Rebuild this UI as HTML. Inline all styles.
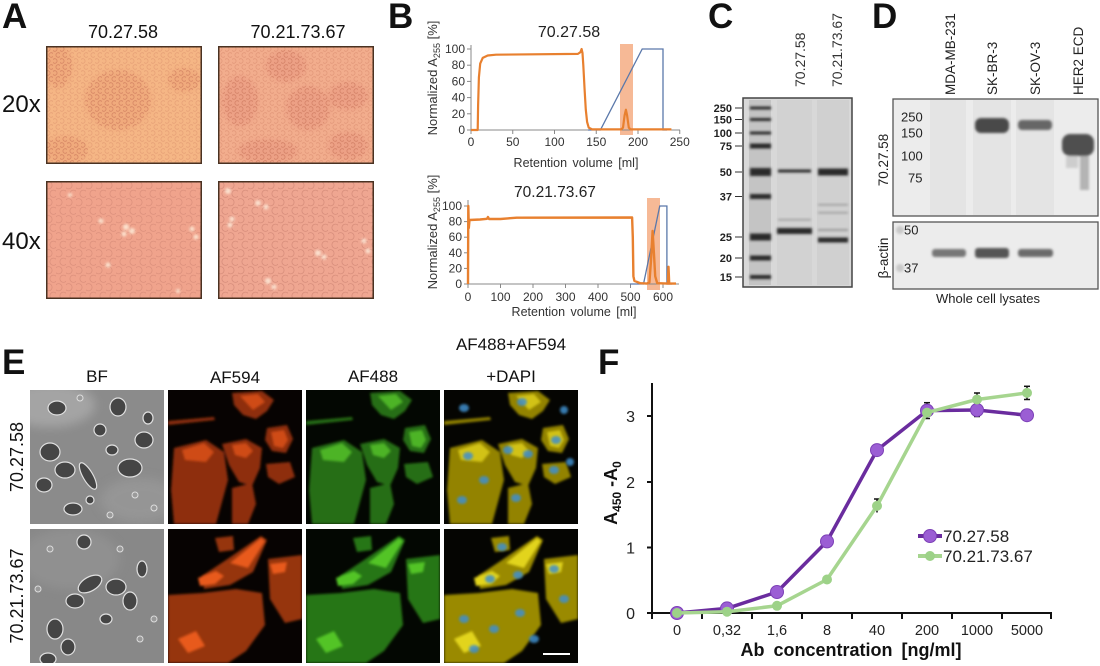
<!DOCTYPE html>
<html><head><meta charset="utf-8">
<style>
html,body{margin:0;padding:0;background:#fff;}
svg{display:block;}
text{font-family:"Liberation Sans",Arial,sans-serif;}
</style></head><body>
<svg width="1100" height="666" viewBox="0 0 1100 666" xmlns="http://www.w3.org/2000/svg">
<defs>
 <pattern id="c20" width="7" height="12" patternUnits="userSpaceOnUse">
   <circle cx="1.75" cy="3" r="2.3" fill="none" stroke="#c46f55" stroke-width="0.8"/>
   <circle cx="5.25" cy="9" r="2.3" fill="none" stroke="#c46f55" stroke-width="0.8"/>
 </pattern>
 <pattern id="c40" width="10" height="17" patternUnits="userSpaceOnUse">
   <circle cx="2.5" cy="4.25" r="3.6" fill="none" stroke="#c47a6a" stroke-width="0.8"/>
   <circle cx="7.5" cy="12.75" r="3.6" fill="none" stroke="#c47a6a" stroke-width="0.8"/>
 </pattern>
 <filter id="bl1" x="-20%" y="-20%" width="140%" height="140%"><feGaussianBlur stdDeviation="1.3"/></filter>
 <filter id="bl2" x="-20%" y="-20%" width="140%" height="140%"><feGaussianBlur stdDeviation="3"/></filter>
 <filter id="bl4" x="-30%" y="-30%" width="160%" height="160%"><feGaussianBlur stdDeviation="5"/></filter>
 <clipPath id="sq"><rect x="0" y="0" width="134" height="134"/></clipPath>
 <clipPath id="boxA"><rect x="0" y="0" width="156" height="118"/></clipPath>

 <g id="r1a">
  <polygon points="64,3 94,1 106,10 99,21 88,29 75,25 66,15"/>
  <polygon points="99,38 119,35 125,49 118,63 104,61 97,50"/>
  <polygon points="54,54 78,49 94,58 92,78 84,96 71,92 61,75"/>
  <polygon points="6,58 38,50 56,62 60,90 54,112 48,134 6,134 3,100"/>
  <polygon points="64,98 84,93 88,114 80,134 64,134"/>
  <polygon points="98,74 122,72 127,87 111,94 100,87"/>
  <polygon points="0,31 46,27 47,30 0,35"/>
 </g>
 <g id="r1b">
  <polygon points="103,42 116,40 120,50 115,58 106,56"/>
  <polygon points="14,60 36,53 46,62 38,72 17,70"/>
  <polygon points="64,55 78,53 85,61 78,68 67,65"/>
  <polygon points="72,6 90,4 97,12 85,20"/>
 </g>
 <g id="r2a">
  <polygon points="47,9 65,7 66,21 51,23"/>
  <polygon points="34,47 58,31 93,7 99,11 85,43 62,56 36,60"/>
  <polygon points="100,30 134,26 134,90 117,94 102,70"/>
  <polygon points="0,66 34,64 68,60 94,64 97,96 78,122 60,134 0,134"/>
 </g>
 <g id="r2b">
  <polygon points="30,49 48,42 56,47 47,55 32,57"/>
  <polygon points="62,34 93,9 97,12 80,39"/>
  <polygon points="102,35 119,33 117,43 105,45"/>
  <polygon points="10,110 28,102 37,117 20,124"/>
 </g>
</defs>

<rect width="1100" height="666" fill="#fff"/>

<!-- ================= PANEL A ================= -->
<text x="2" y="28" font-size="35" font-weight="bold" fill="#111">A</text>
<text x="123" y="38" font-size="18" text-anchor="middle" fill="#111">70.27.58</text>
<text x="298" y="38" font-size="18" text-anchor="middle" fill="#111">70.21.73.67</text>
<text x="2" y="112" font-size="24" fill="#111">20x</text>
<text x="2" y="249" font-size="24" fill="#111">40x</text>

<g transform="translate(46,46)" clip-path="url(#boxA)">
 <rect width="156" height="118" fill="#f5b685"/>
 <rect width="156" height="118" fill="url(#c20)" opacity="0.3"/>
 <g fill="#ea9c72" opacity="0.45" filter="url(#bl2)">
  <ellipse cx="12" cy="20" rx="14" ry="22"/>
  <ellipse cx="72" cy="54" rx="33" ry="30"/>
  <ellipse cx="20" cy="104" rx="22" ry="14"/>
  <ellipse cx="138" cy="34" rx="16" ry="12"/>
 </g>
 <g fill="url(#c20)" opacity="0.5">
  <ellipse cx="12" cy="20" rx="14" ry="22"/>
  <ellipse cx="72" cy="54" rx="33" ry="30"/>
  <ellipse cx="20" cy="104" rx="22" ry="14"/>
  <ellipse cx="138" cy="34" rx="16" ry="12"/>
 </g>
 <rect x="0.75" y="0.75" width="154.5" height="116.5" fill="none" stroke="#4a3222" stroke-width="1.5"/>
</g>

<g transform="translate(218,46)" clip-path="url(#boxA)">
 <rect width="156" height="118" fill="#f2ad8d"/>
 <rect width="156" height="118" fill="url(#c20)" opacity="0.35"/>
 <g fill="#e6927c" opacity="0.45" filter="url(#bl2)">
  <ellipse cx="68" cy="20" rx="20" ry="16"/>
  <ellipse cx="22" cy="55" rx="18" ry="25"/>
  <ellipse cx="90" cy="62" rx="22" ry="22"/>
  <ellipse cx="130" cy="50" rx="20" ry="14"/>
  <ellipse cx="50" cy="105" rx="30" ry="12"/>
  <ellipse cx="130" cy="100" rx="20" ry="14"/>
 </g>
 <g fill="url(#c20)" opacity="0.5">
  <ellipse cx="68" cy="20" rx="20" ry="16"/>
  <ellipse cx="22" cy="55" rx="18" ry="25"/>
  <ellipse cx="90" cy="62" rx="22" ry="22"/>
  <ellipse cx="130" cy="50" rx="20" ry="14"/>
  <ellipse cx="50" cy="105" rx="30" ry="12"/>
  <ellipse cx="130" cy="100" rx="20" ry="14"/>
 </g>
 <rect x="0.75" y="0.75" width="154.5" height="116.5" fill="none" stroke="#4a3222" stroke-width="1.5"/>
</g>

<g transform="translate(46,181)" clip-path="url(#boxA)">
 <rect width="156" height="118" fill="#f0a38c"/>
 <rect width="156" height="118" fill="url(#c40)" opacity="0.45"/>
 <g fill="#fff3df" opacity="0.8" filter="url(#bl1)">
  <circle cx="80" cy="46" r="3"/><circle cx="86" cy="50" r="3"/><circle cx="78" cy="53" r="2.5"/>
  <circle cx="146" cy="48" r="2.5"/><circle cx="150" cy="56" r="2.5"/>
  <circle cx="62" cy="84" r="2.5"/><circle cx="55" cy="40" r="2.5"/>
  <circle cx="24" cy="14" r="2"/><circle cx="132" cy="110" r="2"/>
 </g>
 <rect x="0.75" y="0.75" width="154.5" height="116.5" fill="none" stroke="#4a3222" stroke-width="1.5"/>
</g>

<g transform="translate(218,181)" clip-path="url(#boxA)">
 <rect width="156" height="118" fill="#efa691"/>
 <rect width="156" height="118" fill="url(#c40)" opacity="0.55"/>
 <g fill="#fff1e0" opacity="0.8" filter="url(#bl1)">
  <circle cx="10" cy="10" r="3"/><circle cx="14" cy="38" r="2.5"/><circle cx="12" cy="44" r="2.5"/>
  <circle cx="40" cy="22" r="2.8"/><circle cx="48" cy="26" r="2.5"/>
  <circle cx="100" cy="72" r="3"/><circle cx="106" cy="76" r="2.5"/>
  <circle cx="50" cy="100" r="3"/><circle cx="56" cy="106" r="2.5"/>
  <circle cx="146" cy="60" r="2.5"/><circle cx="150" cy="70" r="2.5"/>
 </g>
 <rect x="0.75" y="0.75" width="154.5" height="116.5" fill="none" stroke="#4a3222" stroke-width="1.5"/>
</g>

<!-- ================= PANEL B ================= -->
<text x="388" y="28" font-size="35" font-weight="bold" fill="#111">B</text>
<!-- top chart -->
<text x="569" y="37" font-size="16" text-anchor="middle" fill="#222">70.27.58</text>
<rect x="620" y="44" width="13" height="91" fill="#f4ad84" opacity="0.85"/>
<g stroke="#888" stroke-width="1" fill="none">
 <line x1="471" y1="45" x2="471" y2="130"/>
 <line x1="471" y1="130" x2="680" y2="130"/>
 <line x1="467" y1="130" x2="471" y2="130"/><line x1="467" y1="113.8" x2="471" y2="113.8"/>
 <line x1="467" y1="97.6" x2="471" y2="97.6"/><line x1="467" y1="81.4" x2="471" y2="81.4"/>
 <line x1="467" y1="65.2" x2="471" y2="65.2"/><line x1="467" y1="49" x2="471" y2="49"/>
 <line x1="471" y1="130" x2="471" y2="134"/><line x1="512.75" y1="130" x2="512.75" y2="134"/>
 <line x1="554.5" y1="130" x2="554.5" y2="134"/><line x1="596.25" y1="130" x2="596.25" y2="134"/>
 <line x1="638" y1="130" x2="638" y2="134"/><line x1="679.75" y1="130" x2="679.75" y2="134"/>
</g>
<path d="M588,130 L600.4,130 L642.2,49 L663,49 L663,130 L667,130" fill="none" stroke="#5a78aa" stroke-width="1.3"/>
<path d="M471,130 L477.7,130 L478.1,105.7 L478.9,77.4 L480.2,63.6 L482.7,57.9 L487.7,55.5 L496,54.7 L577.9,53.9 L580.4,52.2 L581.6,49 L582.5,53 L583.3,65.2 L584.6,89.5 L585.8,109.8 L587.1,121.9 L588.7,127.6 L592.1,129.4 L621.3,129.4 L623,127.6 L624.6,115.4 L625.9,109.7 L627.1,115.4 L628.8,127.6 L630.5,129.4 L671.4,129.4" fill="none" stroke="#e8802f" stroke-width="2.2" stroke-linejoin="round"/>
<g font-size="12" fill="#333" text-anchor="end">
 <text x="465" y="134">0</text><text x="465" y="117.8">20</text><text x="465" y="101.6">40</text>
 <text x="465" y="85.4">60</text><text x="465" y="69.2">80</text><text x="465" y="53">100</text>
</g>
<g font-size="12" fill="#333" text-anchor="middle">
 <text x="471" y="146">0</text><text x="512.75" y="146">50</text><text x="554.5" y="146">100</text>
 <text x="596.25" y="146">150</text><text x="638" y="146">200</text><text x="679.75" y="146">250</text>
</g>
<text x="576" y="167" font-size="12.5" text-anchor="middle" fill="#333" word-spacing="2">Retention volume [ml]</text>
<text transform="translate(437,78) rotate(-90)" font-size="13" text-anchor="middle" fill="#333">Normalized A<tspan font-size="9" dy="3">255</tspan><tspan dy="-3"> [%]</tspan></text>

<!-- bottom chart -->
<text x="555" y="197" font-size="15.5" text-anchor="middle" fill="#222">70.21.73.67</text>
<rect x="647" y="198" width="13" height="92" fill="#f4ad84" opacity="0.85"/>
<g stroke="#888" stroke-width="1" fill="none">
 <line x1="468" y1="200" x2="468" y2="284"/>
 <line x1="468" y1="284" x2="679" y2="284"/>
 <line x1="464" y1="284" x2="468" y2="284"/><line x1="464" y1="268.4" x2="468" y2="268.4"/>
 <line x1="464" y1="252.8" x2="468" y2="252.8"/><line x1="464" y1="237.2" x2="468" y2="237.2"/>
 <line x1="464" y1="221.6" x2="468" y2="221.6"/><line x1="464" y1="206" x2="468" y2="206"/>
 <line x1="468" y1="284" x2="468" y2="288"/><line x1="500.5" y1="284" x2="500.5" y2="288"/>
 <line x1="533" y1="284" x2="533" y2="288"/><line x1="565.5" y1="284" x2="565.5" y2="288"/>
 <line x1="598" y1="284" x2="598" y2="288"/><line x1="630.5" y1="284" x2="630.5" y2="288"/>
 <line x1="663" y1="284" x2="663" y2="288"/>
</g>
<path d="M630,284 L643.5,284 L659.75,206 L666.9,206 L666.9,284 L672,284" fill="none" stroke="#5a78aa" stroke-width="1.3"/>
<path d="M468,284 L468.3,206 L468.8,228 L469.5,220 L480,219.5 L487,218.8 L488,217 L489,219 L500.5,219 L510,218.2 L516.75,217.7 L632.1,217.5 L632.8,237.2 L633.4,276.2 L634.4,280.9 L640.3,283.2 L646.75,283.6 L649.4,282.4 L651,260.6 L652.6,231 L653.9,252.8 L655.2,276.2 L657.2,283.2 L667.9,283.6 L668.5,266.8 L669.2,283.6 L676,283.6" fill="none" stroke="#e8802f" stroke-width="2.4" stroke-linejoin="round"/>
<g font-size="12" fill="#333" text-anchor="end">
 <text x="462" y="288">0</text><text x="462" y="272.4">20</text><text x="462" y="256.8">40</text>
 <text x="462" y="241.2">60</text><text x="462" y="225.6">80</text><text x="462" y="210">100</text>
</g>
<g font-size="12" fill="#333" text-anchor="middle">
 <text x="468" y="301">0</text><text x="500.5" y="301">100</text><text x="533" y="301">200</text>
 <text x="565.5" y="301">300</text><text x="598" y="301">400</text><text x="630.5" y="301">500</text>
 <text x="663" y="301">600</text>
</g>
<text x="574" y="316" font-size="12.5" text-anchor="middle" fill="#333" word-spacing="2">Retention volume [ml]</text>
<text transform="translate(437,232) rotate(-90)" font-size="13" text-anchor="middle" fill="#333">Normalized A<tspan font-size="9" dy="3">255</tspan><tspan dy="-3"> [%]</tspan></text>

<!-- ================= PANEL C ================= -->
<text x="708" y="28" font-size="35" font-weight="bold" fill="#111">C</text>
<text transform="translate(805,87) rotate(-90)" font-size="14" fill="#333">70.27.58</text>
<text transform="translate(842,87) rotate(-90)" font-size="14" fill="#333">70.21.73.67</text>
<rect x="743" y="98" width="109" height="189" fill="#d8d8d8" stroke="#444" stroke-width="1.5"/>
<rect x="749" y="100" width="22" height="185" fill="#c4c4c4"/>
<rect x="777" y="100" width="35" height="185" fill="#d2d2d2"/>
<rect x="817" y="100" width="32" height="185" fill="#d0d0d0"/>
<g fill="#2a2a2a" filter="url(#bl1)">
 <rect x="750" y="106.5" width="21" height="3"/>
 <rect x="750" y="118" width="21" height="3"/>
 <rect x="750" y="131.5" width="21" height="3"/>
 <rect x="750" y="143.5" width="21" height="5"/>
 <rect x="750" y="168" width="21" height="8"/>
 <rect x="750" y="194" width="21" height="5"/>
 <rect x="750" y="233.5" width="21" height="7"/>
 <rect x="750" y="255.5" width="21" height="5"/>
 <rect x="750" y="275" width="21" height="4"/>
 <rect x="778" y="169.5" width="33" height="3"/>
 <rect x="777" y="228" width="35" height="6"/>
 <rect x="818" y="168.5" width="30" height="7"/>
 <rect x="818" y="237.5" width="30" height="5"/>
</g>
<g fill="#999" filter="url(#bl1)">
 <rect x="818" y="229" width="30" height="2"/>
 <rect x="818" y="212" width="30" height="1.5"/>
 <rect x="818" y="204" width="30" height="1.5"/>
 <rect x="778" y="219" width="33" height="1.5"/>
</g>
<g font-size="11" font-weight="bold" fill="#222" text-anchor="end">
 <text x="732" y="112">250</text><text x="732" y="123.5">150</text><text x="732" y="137">100</text>
 <text x="732" y="150">75</text><text x="732" y="176">50</text><text x="732" y="200.5">37</text>
 <text x="732" y="241">25</text><text x="732" y="262">20</text><text x="732" y="281">15</text>
</g>
<g stroke="#333" stroke-width="1">
 <line x1="735" y1="108" x2="742" y2="108"/><line x1="735" y1="119.5" x2="742" y2="119.5"/>
 <line x1="735" y1="133" x2="742" y2="133"/><line x1="735" y1="146" x2="742" y2="146"/>
 <line x1="735" y1="172" x2="742" y2="172"/><line x1="735" y1="196.5" x2="742" y2="196.5"/>
 <line x1="735" y1="237" x2="742" y2="237"/><line x1="735" y1="258" x2="742" y2="258"/>
 <line x1="735" y1="277" x2="742" y2="277"/>
</g>

<!-- ================= PANEL D ================= -->
<text x="872" y="28" font-size="35" font-weight="bold" fill="#111">D</text>
<g font-size="13.5" fill="#222">
 <text transform="translate(955,95) rotate(-90)">MDA-MB-231</text>
 <text transform="translate(997,95) rotate(-90)">SK-BR-3</text>
 <text transform="translate(1040,95) rotate(-90)">SK-OV-3</text>
 <text transform="translate(1083,95) rotate(-90)">HER2 ECD</text>
</g>
<rect x="893" y="99" width="205" height="117" fill="#ececec" stroke="#555" stroke-width="1.3"/>
<g fill="#e4e4e4">
 <rect x="930" y="100" width="36" height="115"/>
 <rect x="973" y="100" width="38" height="115"/>
 <rect x="1016" y="100" width="38" height="115"/>
</g>
<g filter="url(#bl1)">
 <rect x="975" y="118" width="34" height="15" rx="6" fill="#4a4a4a"/>
 <rect x="1018" y="120" width="34" height="10" rx="4" fill="#666"/>
 <rect x="1062" y="134" width="32" height="22" rx="8" fill="#505050"/>
 <rect x="1080" y="156" width="9" height="34" fill="#b4b4b4"/>
 <rect x="1066" y="156" width="12" height="12" fill="#cdcdcd"/>
</g>
<g font-size="13" fill="#222">
 <text x="901" y="121.5">250</text><text x="901" y="137.5">150</text>
 <text x="901" y="160.5">100</text><text x="908" y="182.5">75</text>
</g>
<text transform="translate(888,160) rotate(-90)" font-size="13.5" text-anchor="middle" fill="#222">70.27.58</text>

<rect x="893" y="222" width="205" height="67" fill="#ececec" stroke="#555" stroke-width="1.3"/>
<g filter="url(#bl1)">
 <rect x="932" y="249" width="34" height="8" rx="3" fill="#777"/>
 <rect x="975" y="248" width="34" height="10" rx="3" fill="#555"/>
 <rect x="1018" y="249" width="35" height="8" rx="3" fill="#6a6a6a"/>
 <circle cx="900" cy="230" r="4" fill="#c8c8c8"/>
 <circle cx="900" cy="268" r="4" fill="#c8c8c8"/>
</g>
<g font-size="13" fill="#222">
 <text x="904" y="234.5">50</text><text x="904" y="272.5">37</text>
</g>
<text transform="translate(888,258) rotate(-90)" font-size="13.5" text-anchor="middle" fill="#222">β-actin</text>
<text x="988" y="303" font-size="13" text-anchor="middle" fill="#222">Whole cell lysates</text>

<!-- ================= PANEL E ================= -->
<text x="2" y="374" font-size="35" font-weight="bold" fill="#111">E</text>
<g font-size="17" fill="#111" text-anchor="middle">
 <text x="97" y="382">BF</text>
 <text x="235" y="383">AF594</text>
 <text x="373" y="382">AF488</text>
 <text x="511" y="350">AF488+AF594</text>
 <text x="511" y="382">+DAPI</text>
</g>
<text transform="translate(23,457) rotate(-90)" font-size="18" text-anchor="middle" fill="#111">70.27.58</text>
<text transform="translate(23,596) rotate(-90)" font-size="18" text-anchor="middle" fill="#111">70.21.73.67</text>

<!-- Row 1 BF -->
<g transform="translate(30,390)" clip-path="url(#sq)">
 <rect width="134" height="134" fill="#8b8b8b"/>
 <ellipse cx="20" cy="15" rx="45" ry="22" fill="#b5b5b5" opacity="0.6" filter="url(#bl4)"/>
 <ellipse cx="110" cy="110" rx="40" ry="22" fill="#a0a0a0" opacity="0.5" filter="url(#bl4)"/>
 <g fill="#454545" stroke="#e0e0e0" stroke-width="1.2">
  <ellipse cx="27" cy="18" rx="9" ry="7"/>
  <ellipse cx="88" cy="17" rx="8" ry="9"/>
  <ellipse cx="114" cy="50" rx="9" ry="8"/>
  <ellipse cx="20" cy="62" rx="10" ry="9"/>
  <ellipse cx="35" cy="80" rx="10" ry="8"/>
  <ellipse cx="14" cy="95" rx="8" ry="7"/>
  <ellipse cx="58" cy="86" rx="5" ry="15" transform="rotate(-30 58 86)"/>
  <ellipse cx="100" cy="78" rx="12" ry="9"/>
  <ellipse cx="43" cy="119" rx="9" ry="6"/>
  <ellipse cx="70" cy="40" rx="6" ry="6"/>
  <ellipse cx="118" cy="28" rx="5" ry="6"/>
  <ellipse cx="60" cy="110" rx="4" ry="4"/>
  <ellipse cx="82" cy="60" rx="6" ry="5"/>
 </g>
 <g fill="#9a9a9a" stroke="#dedede" stroke-width="1">
  <circle cx="50" cy="8" r="3"/><circle cx="105" cy="105" r="3"/><circle cx="80" cy="125" r="3"/><circle cx="124" cy="118" r="3"/>
 </g>
</g>
<!-- Row 1 AF594 -->
<g transform="translate(168,390)" clip-path="url(#sq)">
 <rect width="134" height="134" fill="#070302"/>
 <use href="#r1a" fill="#8e2e0c" filter="url(#bl1)"/>
 <use href="#r1b" fill="#cf4c18" filter="url(#bl1)"/>
</g>
<!-- Row 1 AF488 -->
<g transform="translate(306,390)" clip-path="url(#sq)">
 <rect width="134" height="134" fill="#030702"/>
 <use href="#r1a" fill="#256e12" filter="url(#bl1)"/>
 <use href="#r1b" fill="#4db426" filter="url(#bl1)"/>
</g>
<!-- Row 1 merged -->
<g transform="translate(444,390)" clip-path="url(#sq)">
 <rect width="134" height="134" fill="#050502"/>
 <use href="#r1a" fill="#938300" filter="url(#bl1)"/>
 <use href="#r1b" fill="#d2c214" filter="url(#bl1)"/>
 <g fill="#3f8fcc" opacity="0.85" filter="url(#bl1)">
  <ellipse cx="78" cy="12" rx="5" ry="4"/><ellipse cx="112" cy="50" rx="5" ry="4"/>
  <ellipse cx="64" cy="60" rx="5" ry="4"/><ellipse cx="84" cy="64" rx="5" ry="4"/>
  <ellipse cx="24" cy="66" rx="5" ry="4"/><ellipse cx="40" cy="90" rx="5" ry="4"/>
  <ellipse cx="18" cy="110" rx="5" ry="4"/><ellipse cx="72" cy="108" rx="5" ry="4"/>
  <ellipse cx="110" cy="80" rx="5" ry="4"/><ellipse cx="20" cy="18" rx="5" ry="4"/>
  <ellipse cx="120" cy="20" rx="4" ry="4"/><ellipse cx="126" cy="72" rx="4" ry="4"/>
 </g>
</g>

<!-- Row 2 BF -->
<g transform="translate(30,529)" clip-path="url(#sq)">
 <rect width="134" height="134" fill="#888"/>
 <ellipse cx="40" cy="30" rx="50" ry="30" fill="#999" opacity="0.5" filter="url(#bl4)"/>
 <g fill="#454545" stroke="#e0e0e0" stroke-width="1.2">
  <ellipse cx="54" cy="13" rx="7" ry="7"/>
  <ellipse cx="60" cy="55" rx="13" ry="7" transform="rotate(-30 60 55)"/>
  <ellipse cx="86" cy="58" rx="10" ry="8"/>
  <ellipse cx="45" cy="72" rx="9" ry="7"/>
  <ellipse cx="100" cy="72" rx="7" ry="9"/>
  <ellipse cx="25" cy="100" rx="8" ry="10"/>
  <ellipse cx="38" cy="118" rx="7" ry="8"/>
  <ellipse cx="18" cy="130" rx="8" ry="6"/>
  <ellipse cx="112" cy="40" rx="5" ry="8"/>
  <ellipse cx="76" cy="90" rx="6" ry="5"/>
 </g>
 <g fill="#999" stroke="#dcdcdc" stroke-width="1">
  <circle cx="20" cy="20" r="3"/><circle cx="110" cy="110" r="3"/><circle cx="90" cy="20" r="3"/><circle cx="124" cy="90" r="3"/><circle cx="8" cy="60" r="3"/>
 </g>
</g>
<!-- Row 2 AF594 -->
<g transform="translate(168,529)" clip-path="url(#sq)">
 <rect width="134" height="134" fill="#070302"/>
 <use href="#r2a" fill="#963410" filter="url(#bl1)"/>
 <use href="#r2b" fill="#e85a1c" filter="url(#bl1)"/>
</g>
<!-- Row 2 AF488 -->
<g transform="translate(306,529)" clip-path="url(#sq)">
 <rect width="134" height="134" fill="#030702"/>
 <use href="#r2a" fill="#287614" filter="url(#bl1)"/>
 <use href="#r2b" fill="#52c426" filter="url(#bl1)"/>
</g>
<!-- Row 2 merged -->
<g transform="translate(444,529)" clip-path="url(#sq)">
 <rect width="134" height="134" fill="#050502"/>
 <use href="#r2a" fill="#9a8a00" filter="url(#bl1)"/>
 <use href="#r2b" fill="#e2d41a" filter="url(#bl1)"/>
 <g fill="#3f8fcc" opacity="0.85" filter="url(#bl1)">
  <ellipse cx="58" cy="18" rx="5" ry="4"/><ellipse cx="46" cy="50" rx="5" ry="4"/>
  <ellipse cx="74" cy="46" rx="5" ry="4"/><ellipse cx="110" cy="40" rx="5" ry="4"/>
  <ellipse cx="120" cy="70" rx="5" ry="4"/><ellipse cx="20" cy="90" rx="5" ry="4"/>
  <ellipse cx="50" cy="100" rx="5" ry="4"/><ellipse cx="76" cy="84" rx="5" ry="4"/>
  <ellipse cx="30" cy="120" rx="5" ry="4"/><ellipse cx="90" cy="110" rx="5" ry="4"/>
 </g>
 <line x1="99" y1="125" x2="126" y2="125" stroke="#fff" stroke-width="2"/>
</g>

<!-- ================= PANEL F ================= -->
<text x="598" y="374" font-size="35" font-weight="bold" fill="#111">F</text>
<g stroke="#111" stroke-width="2" fill="none">
 <line x1="652" y1="383" x2="652" y2="614"/>
 <line x1="651" y1="613" x2="1052" y2="613"/>
 <line x1="647" y1="416" x2="652" y2="416"/>
 <line x1="647" y1="482" x2="652" y2="482"/>
 <line x1="647" y1="547.5" x2="652" y2="547.5"/>
 <line x1="647" y1="613" x2="652" y2="613"/>
 <line x1="652" y1="613" x2="652" y2="619"/>
 <line x1="702" y1="613" x2="702" y2="619"/>
 <line x1="752" y1="613" x2="752" y2="619"/>
 <line x1="802" y1="613" x2="802" y2="619"/>
 <line x1="852" y1="613" x2="852" y2="619"/>
 <line x1="902" y1="613" x2="902" y2="619"/>
 <line x1="952" y1="613" x2="952" y2="619"/>
 <line x1="1002" y1="613" x2="1002" y2="619"/>
 <line x1="1051" y1="613" x2="1051" y2="619"/>
</g>
<g font-size="16" fill="#222" text-anchor="end">
 <text x="635" y="422">3</text><text x="635" y="488">2</text>
 <text x="635" y="553.5">1</text><text x="635" y="619">0</text>
</g>
<g font-size="14.5" fill="#222" text-anchor="middle">
 <text x="677" y="635">0</text><text x="727" y="635">0,32</text><text x="777" y="635">1,6</text>
 <text x="827" y="635">8</text><text x="877" y="635">40</text><text x="927" y="635">200</text>
 <text x="977" y="635">1000</text><text x="1027" y="635">5000</text>
</g>
<text x="851" y="656" font-size="18" font-weight="bold" text-anchor="middle" fill="#111" word-spacing="4">Ab concentration [ng/ml]</text>
<text transform="translate(617,493) rotate(-90)" font-size="18" font-weight="bold" text-anchor="middle" fill="#111">A<tspan font-size="12" dy="4">450</tspan><tspan dy="-4"> -A</tspan><tspan font-size="12" dy="4">0</tspan></text>

<!-- error bars -->
<g stroke="#111" stroke-width="1.5">
 <line x1="877" y1="444.8" x2="877" y2="455.3"/><line x1="874" y1="444.8" x2="880" y2="444.8"/>
 <line x1="927" y1="402.7" x2="927" y2="418.5"/><line x1="924" y1="402.7" x2="930" y2="402.7"/><line x1="924" y1="418.5" x2="930" y2="418.5"/>
 <line x1="977" y1="403.5" x2="977" y2="416.5"/><line x1="974" y1="403.5" x2="980" y2="403.5"/><line x1="974" y1="416.5" x2="980" y2="416.5"/>
 <line x1="877" y1="499" x2="877" y2="512.5"/><line x1="874" y1="499" x2="880" y2="499"/>
 <line x1="1027" y1="386.3" x2="1027" y2="399.5"/><line x1="1024" y1="386.3" x2="1030" y2="386.3"/><line x1="1024" y1="399.5" x2="1030" y2="399.5"/>
 <line x1="977" y1="393" x2="977" y2="406"/><line x1="974" y1="393" x2="980" y2="393"/>
</g>
<!-- purple -->
<polyline points="677,613 727,608.4 777,592 827,541.4 877,450.1 927,410.6 977,410 1027,415.2" fill="none" stroke="#6a2c9e" stroke-width="3.5" stroke-linejoin="round"/>
<g fill="#9b5ed4" stroke="#7c40b6" stroke-width="1">
 <circle cx="677" cy="613" r="6.5"/><circle cx="727" cy="608.4" r="6.5"/><circle cx="777" cy="592" r="6.5"/>
 <circle cx="827" cy="541.4" r="6.5"/><circle cx="877" cy="450.1" r="6.5"/><circle cx="927" cy="410.6" r="6.5"/>
 <circle cx="977" cy="410" r="6.5"/><circle cx="1027" cy="415.2" r="6.5"/>
</g>
<!-- green -->
<polyline points="677,613 727,611.7 777,605.8 827,579.5 877,505.9 927,412.6 977,399.5 1027,392.9" fill="none" stroke="#a6d58f" stroke-width="3.5" stroke-linejoin="round"/>
<g fill="#9dd288">
 <circle cx="677" cy="613" r="5"/><circle cx="727" cy="611.7" r="5"/><circle cx="777" cy="605.8" r="5"/>
 <circle cx="827" cy="579.5" r="5"/><circle cx="877" cy="505.9" r="5"/><circle cx="927" cy="412.6" r="5"/>
 <circle cx="977" cy="399.5" r="5"/><circle cx="1027" cy="392.9" r="5"/>
</g>
<!-- legend -->
<line x1="918" y1="536" x2="942" y2="536" stroke="#6a2c9e" stroke-width="4"/>
<circle cx="930" cy="536" r="6.5" fill="#9b5ed4" stroke="#7c40b6" stroke-width="1"/>
<text x="943" y="542" font-size="17" fill="#222">70.27.58</text>
<line x1="918" y1="556" x2="942" y2="556" stroke="#a6d58f" stroke-width="4"/>
<circle cx="930" cy="556" r="5" fill="#9dd288"/>
<text x="943" y="562" font-size="17" fill="#222">70.21.73.67</text>
</svg>
</body></html>
